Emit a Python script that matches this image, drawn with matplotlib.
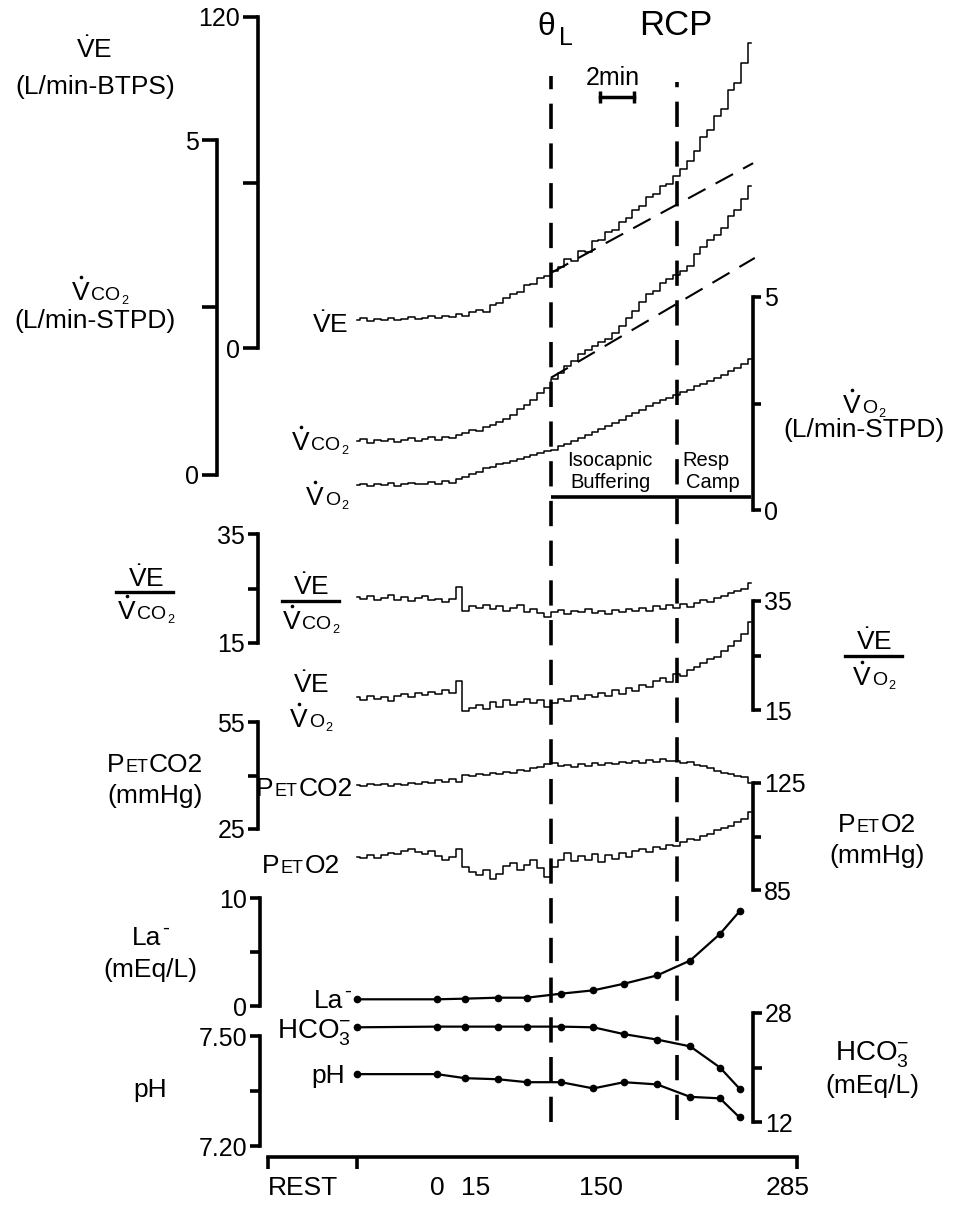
import numpy as np
import matplotlib
matplotlib.use("Agg")
import matplotlib.pyplot as plt
from matplotlib.lines import Line2D

plt.rcParams['font.family'] = ['Liberation Sans', 'DejaVu Sans']
plt.rcParams['mathtext.fontset'] = 'custom'
plt.rcParams['mathtext.rm'] = 'Liberation Sans'
plt.rcParams['mathtext.it'] = 'Liberation Sans:italic'
plt.rcParams['mathtext.bf'] = 'Liberation Sans:bold'

# breath-by-breath traces, one value every 0.4 min (0 = start of record)
t = np.round(np.arange(59) * 0.4, 1)
ve = [10.3, 10.8, 9.9, 10.5, 10.1, 10.9, 10.2, 10.6, 11.3, 10.4,
      11.0, 11.6, 10.8, 11.5, 11.1, 12.4, 11.7, 12.9, 13.6, 13.1,
      15.6, 16.4, 18.0, 19.6, 20.4, 22.8, 23.1, 25.2, 26.0, 27.9,
      29.2, 32.4, 31.6, 35.3, 34.9, 38.8, 39.0, 41.9, 42.8, 45.6,
      47.1, 50.2, 51.3, 54.7, 55.9, 58.8, 59.6, 62.5, 64.9, 67.8,
      71.6, 76.5, 78.9, 84.2, 86.8, 93.5, 96.1, 103.4, 110.5]
vco2 = [0.50, 0.53, 0.48, 0.52, 0.50, 0.54, 0.49, 0.52, 0.55, 0.51,
        0.53, 0.56, 0.52, 0.57, 0.55, 0.60, 0.63, 0.67, 0.66, 0.72,
        0.74, 0.79, 0.83, 0.90, 0.98, 1.04, 1.12, 1.22, 1.30, 1.44,
        1.52, 1.63, 1.70, 1.80, 1.86, 1.92, 1.98, 2.03, 2.12, 2.22,
        2.35, 2.45, 2.58, 2.70, 2.75, 2.86, 2.92, 2.98, 3.04, 3.12,
        3.30, 3.40, 3.50, 3.58, 3.68, 3.86, 3.95, 4.12, 4.32]
vo2 = [0.58, 0.62, 0.56, 0.60, 0.58, 0.63, 0.57, 0.61, 0.64, 0.60,
       0.62, 0.66, 0.61, 0.67, 0.64, 0.72, 0.78, 0.85, 0.90, 0.98,
       1.02, 1.08, 1.10, 1.16, 1.20, 1.24, 1.30, 1.33, 1.38, 1.42,
       1.50, 1.55, 1.62, 1.70, 1.76, 1.84, 1.90, 1.97, 2.05, 2.12,
       2.20, 2.28, 2.35, 2.44, 2.52, 2.58, 2.63, 2.70, 2.76, 2.82,
       2.90, 2.96, 3.02, 3.10, 3.18, 3.27, 3.33, 3.42, 3.55]
ve_vco2 = [23.4, 23.0, 23.6, 22.8, 23.3, 23.8, 22.9, 23.4, 22.7, 23.2,
           23.6, 22.8, 23.1, 22.6, 23.0, 25.3, 20.9, 21.8, 21.5, 22.0,
           21.2, 21.7, 20.8, 21.4, 21.9, 20.7, 21.3, 20.5, 19.8, 20.6,
           21.0, 20.4, 20.8, 20.6, 21.2, 20.5, 20.9, 20.3, 21.0, 20.6,
           21.3, 20.8, 21.5, 20.9, 21.8, 21.2, 21.9, 21.4, 22.1, 21.6,
           22.4, 22.8, 22.5, 23.2, 23.6, 24.1, 24.5, 25.0, 26.1]
ve_vo2 = [17.4, 16.9, 17.6, 17.0, 17.3, 16.7, 17.5, 17.9, 17.4, 18.1,
          17.7, 18.3, 17.9, 18.6, 18.2, 20.4, 14.8, 15.3, 15.9, 15.2,
          16.4, 15.6, 16.8, 15.9, 16.5, 17.0, 16.2, 16.9, 15.6, 16.3,
          17.1, 16.6, 17.5, 17.0, 17.8, 17.3, 18.2, 17.6, 18.6, 18.0,
          19.0, 18.5, 19.6, 19.2, 20.3, 20.8, 20.1, 21.6, 21.2, 22.4,
          22.9, 23.6, 24.4, 24.8, 25.9, 26.8, 27.6, 28.9, 31.2]
petco2 = [37.3, 37.0, 37.5, 37.2, 37.6, 37.1, 37.7, 37.4, 38.0, 37.6,
          38.3, 37.9, 38.6, 38.2, 38.9, 38.1, 40.1, 39.8, 40.4, 40.1,
          40.7, 40.3, 41.1, 40.8, 41.6, 41.2, 42.0, 42.5, 43.1, 43.4,
          42.6, 43.0, 42.5, 43.3, 42.8, 43.5, 43.0, 43.6, 43.1, 43.8,
          43.4, 44.0, 43.5, 44.3, 43.8, 44.6, 44.0, 44.2, 43.5, 43.9,
          43.0, 42.6, 42.0, 41.3, 40.8, 40.4, 39.9, 39.5, 37.8]
peto2 = [97.4, 97.0, 97.9, 96.8, 98.2, 99.0, 98.4, 99.6, 100.3, 99.2,
         98.5, 99.4, 97.8, 96.4, 97.2, 100.2, 93.6, 91.8, 90.5, 92.4,
         89.2, 91.0, 93.8, 95.2, 92.6, 94.4, 96.3, 93.1, 89.8, 93.5,
         96.4, 98.8, 95.8, 97.6, 96.2, 98.3, 95.6, 97.9, 96.7, 98.9,
         97.2, 99.5, 100.4, 99.1, 101.2, 100.5, 102.0, 101.4, 103.0, 104.1,
         103.6, 105.2, 106.0, 107.3, 108.1, 109.0, 110.4, 111.5, 114.0]

# arterial samples
t_blood = [0, 4.7, 6.35, 8.3, 10.0, 12.0, 13.9, 15.7, 17.65, 19.6, 21.35, 22.5]
la = [0.62, 0.62, 0.68, 0.77, 0.77, 1.14, 1.45, 2.06, 2.83, 4.21, 6.67, 8.76]
hco3 = [25.9, 26.0, 26.0, 26.0, 26.0, 26.0, 25.9, 24.9, 24.1, 23.1, 20.0, 16.9]
ph = [7.396, 7.396, 7.385, 7.382, 7.374, 7.374, 7.357, 7.374, 7.368, 7.334, 7.330, 7.278]

# thresholds and extrapolated slopes
theta_l = 11.4
rcp = 18.8
ve_fit_t, ve_fit = [11.4, 23.3], [27.2, 67.0]
vco2_fit_t, vco2_fit = [11.4, 23.4], [1.45, 3.24]

x_labels = ['REST', '0', '15', '150', '285']
x_label_pos = [-3.2, 4.7, 7.0, 14.35, 25.35]

W, H = 957, 1205
fig = plt.figure(figsize=(W / 100, H / 100), dpi=100)
X0, X1 = 200, 800
LW = 2.6


def tmin(px):
    return (px - 357) / 17.0


XLIM = (tmin(X0), tmin(X1))


def panel(top, bot, lo, hi, side, spine_px, ticklen, labels):
    ax = fig.add_axes([X0 / W, 1 - bot / H, (X1 - X0) / W, (bot - top) / H])
    ax.set_xlim(XLIM)
    ax.set_ylim(lo, hi)
    ax.patch.set_alpha(0)
    for s in ax.spines.values():
        s.set_visible(False)
    ax.xaxis.set_visible(False)
    sp = ax.spines[side]
    sp.set_visible(True)
    sp.set_position(('data', tmin(spine_px)))
    sp.set_bounds(lo, hi)
    sp.set_linewidth(LW)
    sp.set_capstyle('projecting')
    ax.yaxis.set_ticks_position(side)
    ax.set_yticks([lo, (lo + hi) / 2, hi])
    ax.set_yticklabels(labels)
    ax.tick_params(axis='y', direction='out', length=ticklen * 0.72, width=LW,
                   labelsize=18, pad=2)
    return ax


ax_ve = panel(17, 348, 0, 120, 'left', 258, 15, ['0', '', '120'])
ax_vco2 = panel(140, 475, 0, 5, 'left', 217, 15, ['0', '', '5'])
ax_vo2 = panel(297, 510, 0, 5, 'right', 753, 8, ['0', '', '5'])
ax_r1 = panel(534, 643, 15, 35, 'left', 258, 10, ['15', '', '35'])
ax_r2 = panel(601, 710, 15, 35, 'right', 753, 8, ['15', '', '35'])
ax_pc = panel(722, 829, 25, 55, 'left', 258, 10, ['25', '', '55'])
ax_po = panel(783, 890, 85, 125, 'right', 753, 8, ['85', '', '125'])
ax_la = panel(898, 1006, 0, 10, 'left', 260, 10, ['0', '', '10'])
ax_ph = panel(1036, 1146, 7.2, 7.5, 'left', 260, 10, ['7.20', '', '7.50'])
ax_hc = panel(1013, 1122, 12, 28, 'right', 753, 9, ['12', '', '28'])

tr = dict(color='black', lw=1.1, drawstyle='steps-mid', clip_on=False)
ax_ve.plot(t, ve, **tr)
ax_vco2.plot(t, vco2, **tr)
ax_vo2.plot(t, vo2, **tr)
ax_r1.plot(t, ve_vco2, **tr)
ax_r2.plot(t, ve_vo2, **tr)
ax_pc.plot(t, petco2, **tr)
ax_po.plot(t, peto2, **tr)

fit = dict(color='black', lw=1.5, ls=(0, (9.5, 5.5)), clip_on=False)
ax_ve.plot(ve_fit_t, ve_fit, **fit)
ax_vco2.plot(vco2_fit_t, vco2_fit, **fit)

pts = dict(color='black', lw=1.6, marker='o', ms=4.5, clip_on=False)
ax_la.plot(t_blood, la, **pts)
ax_hc.plot(t_blood, hco3, **pts)
ax_ph.plot(t_blood, ph, **pts)

# overlay in (minutes, pixel rows) for threshold lines and markers
ov = fig.add_axes([X0 / W, 0, (X1 - X0) / W, 1])
ov.set_xlim(XLIM)
ov.set_ylim(H, 0)
ov.axis('off')
ov.axvline(theta_l, ymin=1 - 1122 / H, ymax=1 - 76 / H, color='k', lw=LW, ls=(0, (7, 4)))
ov.axvline(rcp, ymin=1 - 1120 / H, ymax=1 - 82 / H, color='k', lw=LW, ls=(0, (7, 4)))
ov.hlines(497, theta_l, t[-1], colors='k', lw=LW)
ov.plot([14.3, 16.3], [97, 97], color='k', lw=2.5, marker='|', ms=9, mew=2.5)

# time axis
axb = fig.add_axes([X0 / W, 1 - 1157 / H, (X1 - X0) / W, 0.02])
axb.set_xlim(XLIM)
axb.patch.set_alpha(0)
for s in ['left', 'right', 'top']:
    axb.spines[s].set_visible(False)
axb.yaxis.set_visible(False)
axb.spines['bottom'].set_bounds(tmin(268), tmin(797))
axb.spines['bottom'].set_linewidth(LW)
axb.spines['bottom'].set_capstyle('projecting')
axb.set_xticks([tmin(268), tmin(357), tmin(797)], ['', '', ''])
axb.set_xticks(x_label_pos, x_labels, minor=True)
axb.tick_params(axis='x', which='major', direction='out', length=12 * 0.72, width=LW)
axb.tick_params(axis='x', which='minor', length=0, labelsize=19, pad=14)

VD = r'$\dot{\mathrm{V}}$'


def txt(x, y, s, size=19, ha='center'):
    fig.text(x / W, 1 - y / H, s, fontsize=size, ha=ha, va='baseline')


def dot(x, y):
    fig.add_artist(Line2D([x / W], [1 - y / H], color='k', marker='o', ms=2.6, mew=0))


def rich(x, y, parts, ha='center'):
    # parts = (text, size, drop in px, extra gap in px) placed on one baseline;
    # a leading 'V' gets the flow dot drawn above it
    r = fig.canvas.get_renderer()
    arts = []
    for s, size, dy, gap in parts:
        a = fig.text(0, 0, s, fontsize=size, ha='left', va='baseline')
        arts.append((a, s, size, a.get_window_extent(r).width + gap, dy))
    total = sum(p[3] for p in arts)
    xs = x - {'left': 0, 'center': total / 2, 'right': total}[ha]
    for a, s, size, w, dy in arts:
        a.set_position((xs / W, 1 - (y + dy) / H))
        if s == 'V':
            dot(xs + (w - 1) / 2, y + dy - size * 1.389 * 0.716 - 4)
        xs += w


def bar(x0, x1, y, lw=2.4):
    fig.add_artist(Line2D([x0 / W, x1 / W], [1 - y / H, 1 - y / H], color='k', lw=lw))


VCO2 = [('V', 19, 0, 1), ('CO', 14, 0, 1), ('2', 9, 4, 0)]
VO2 = [('V', 19, 0, 1), ('O', 14, 0, 1), ('2', 9, 4, 0)]
PETCO2 = [('P', 19, 0, 1), ('ET', 13, 0, 1), ('CO2', 19, 0, 0)]
PETO2 = [('P', 19, 0, 1), ('ET', 13, 0, 1), ('O2', 19, 0, 0)]
LA = [('La', 19, 0, 1), ('-', 15, -11, 0)]

# left side titles
txt(94, 58, VD + 'E')
txt(95, 94, '(L/min-BTPS)')
rich(100, 300, VCO2)
txt(95, 328, '(L/min-STPD)')
txt(146, 587, VD + 'E')
bar(116, 173, 592)
rich(146, 619, VCO2)
rich(155, 772, PETCO2)
txt(155, 803, '(mmHg)')
rich(150, 945, LA)
txt(150, 977, '(mEq/L)')
txt(150, 1097, 'pH')

# trace labels
txt(348, 333, VD + 'E', ha='right')
rich(348, 450, VCO2, ha='right')
rich(348, 505, VO2, ha='right')
txt(311, 595, VD + 'E')
bar(282, 339, 601)
rich(311, 629, VCO2)
txt(311, 693, VD + 'E')
rich(311, 727, VO2)
rich(353, 796, PETCO2, ha='right')
rich(340, 873, PETO2, ha='right')
rich(351, 1008, LA, ha='right')
txt(351, 1038, r'HCO$_3^{-}$', size=20, ha='right')
txt(345, 1083, 'pH', ha='right')

# right side titles
rich(864, 413, VO2)
txt(864, 437, '(L/min-STPD)')
txt(874, 650, VD + 'E')
bar(845, 902, 656)
rich(874, 685, VO2)
rich(877, 832, PETO2)
txt(877, 863, '(mmHg)')
txt(872, 1060, r'HCO$_3^{-}$', size=20)
txt(872, 1093, '(mEq/L)')

# threshold annotations
txt(546, 35, 'θ', size=23)
txt(566, 45, 'L', size=18)
txt(676, 35, 'RCP', size=25)
txt(613, 85, '2min', size=18)
txt(610, 466, 'Isocapnic', size=14.5)
txt(610, 488, 'Buffering', size=14.5)
txt(706, 466, 'Resp', size=14.5)
txt(713, 488, 'Camp', size=14.5)

fig.savefig('out.png', dpi=100)
